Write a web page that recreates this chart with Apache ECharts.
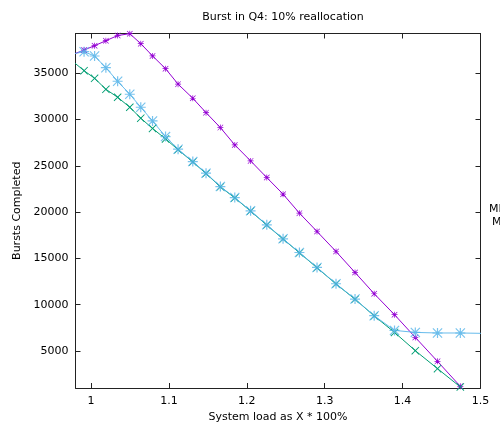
<!DOCTYPE html>
<html>
<head>
<meta charset="utf-8">
<script src="https://cdn.jsdelivr.net/npm/echarts@6/dist/echarts.min.js"></script>
<style>
  html, body { margin: 0; padding: 0; background: #fff; }
  #chart { width: 500px; height: 428px; }
</style>
</head>
<body>
<div id="chart"></div>
<script>
// load values (x), first and last points fall just outside the visible range
const loads = [0.977, 0.991, 1.0045, 1.019, 1.0341, 1.0497, 1.0638, 1.0789, 1.0956, 1.1117, 1.1306,
  1.1476, 1.166, 1.1845, 1.2048, 1.2256, 1.2465, 1.2675, 1.2901, 1.3145, 1.3389, 1.3635, 1.3896,
  1.4163, 1.4448, 1.4741, 1.505];

const purpleVals = [37050, 37517, 37981, 38520, 39080, 39280, 38200, 36880, 35500, 33830, 32304,
  30750, 29131, 27264, 25538, 23735, 21943, 19893, 17907, 15749, 13483, 11184, 8918,
  6468, 3878, 1180, null];
const blueVals = [37100, 37333, 36869, 35607, 34139, 32736, 31333, 29854, 28160, 26800, 25462,
  24210, 22764, 21577, 20141, 18630, 17120, 15641, 14022, 12263, 10612, 8810, 7223,
  7007, 6943, 6943, 6900];
const greenVals = [36250, 35283, 34463, 33275, 32412, 31333, 30146, 29045, 27912, 26750, 25420,
  24170, 22730, 21540, 20110, 18600, 17090, 15610, 13990, 12240, 10590, 8790, 7007,
  5032, 3090, 1115, null];

const xTicks = [1, 1.1, 1.2, 1.3, 1.4, 1.5];
const yTicks = [5000, 10000, 15000, 20000, 25000, 30000, 35000];

const pairs = (vals) => loads.map((x, i) => [x, vals[i]]).filter((p) => p[1] !== null);

const plusPath = 'M4.4,0h1.2v4.4h4.4v1.2h-4.4v4.4h-1.2v-4.4h-4.4v-1.2h4.4z';
const crossPath = 'M0,0.8L0.8,0L5,4.2L9.2,0L10,0.8L5.8,5L10,9.2L9.2,10L5,5.8L0.8,10L0,9.2L4.2,5Z';
const starPath = 'path://' + plusPath + crossPath;

const font = 'DejaVu Sans';
const fs = 11;
const chart = echarts.init(document.getElementById('chart'));

const axisLine = { show: true, lineStyle: { color: '#222', width: 1 } };

const option = {
  animation: false,
  title: {
    text: 'Burst in Q4: 10% reallocation',
    left: 278,
    top: 7,
    textAlign: 'center',
    textStyle: { fontFamily: font, fontSize: fs, fontWeight: 'normal', color: '#000' },
  },
  grid: { left: 75.5, top: 33.5, width: 405, height: 354.5 },
  xAxis: [
    {
      type: 'value',
      min: 0.98,
      max: 1.5,
      name: 'System load as X * 100%',
      nameLocation: 'middle',
      nameGap: 24,
      nameTextStyle: { fontFamily: font, fontSize: fs, color: '#000' },
      axisLine: axisLine,
      axisTick: { show: true, inside: true, length: 5, customValues: xTicks, lineStyle: { color: '#222' } },
      axisLabel: { customValues: xTicks, formatter: (v) => String(v), fontFamily: font, fontSize: fs, color: '#000', margin: 8 },
      splitLine: { show: false },
    },
    {
      type: 'value',
      position: 'top',
      min: 0.98,
      max: 1.5,
      axisLine: axisLine,
      axisTick: { show: true, inside: true, length: 5, customValues: xTicks, lineStyle: { color: '#222' } },
      axisLabel: { show: false },
      splitLine: { show: false },
    },
  ],
  yAxis: [
    {
      type: 'value',
      min: 1000,
      max: 39300,
      name: 'Bursts Completed',
      nameLocation: 'middle',
      nameGap: 43,
      nameTextStyle: { fontFamily: font, fontSize: fs, color: '#000' },
      axisLine: axisLine,
      axisTick: { show: true, inside: true, length: 5, customValues: yTicks, lineStyle: { color: '#222' } },
      axisLabel: { customValues: yTicks, formatter: (v) => String(v), fontFamily: font, fontSize: fs, color: '#000', margin: 7 },
      splitLine: { show: false },
    },
    {
      type: 'value',
      position: 'right',
      min: 1000,
      max: 39300,
      axisLine: axisLine,
      axisTick: { show: true, inside: true, length: 5, customValues: yTicks, lineStyle: { color: '#222' } },
      axisLabel: { show: false },
      splitLine: { show: false },
    },
  ],
  graphic: [
    { type: 'text', left: 489, top: 204, style: { text: 'MI', font: '11px "DejaVu Sans"', fill: '#000' } },
    { type: 'text', left: 492, top: 217, style: { text: 'M', font: '11px "DejaVu Sans"', fill: '#000' } },
  ],
  series: [
    {
      type: 'line',
      data: pairs(purpleVals),
      symbol: starPath,
      symbolSize: 6,
      showAllSymbol: true,
      clip: true,
      lineStyle: { color: '#9400d3', width: 1 },
      itemStyle: { color: '#9400d3' },
    },
    {
      type: 'line',
      data: pairs(greenVals),
      symbol: 'path://' + crossPath,
      symbolSize: 8,
      showAllSymbol: true,
      clip: true,
      lineStyle: { color: '#009e73', width: 1 },
      itemStyle: { color: '#009e73' },
    },
    {
      type: 'line',
      data: pairs(blueVals),
      symbol: starPath,
      symbolSize: 10,
      showAllSymbol: true,
      clip: true,
      lineStyle: { color: '#56b4e9', width: 1, opacity: 0.9 },
      itemStyle: { color: '#56b4e9', opacity: 0.8 },
    },
  ],
};

chart.setOption(option);
</script>
</body>
</html>
